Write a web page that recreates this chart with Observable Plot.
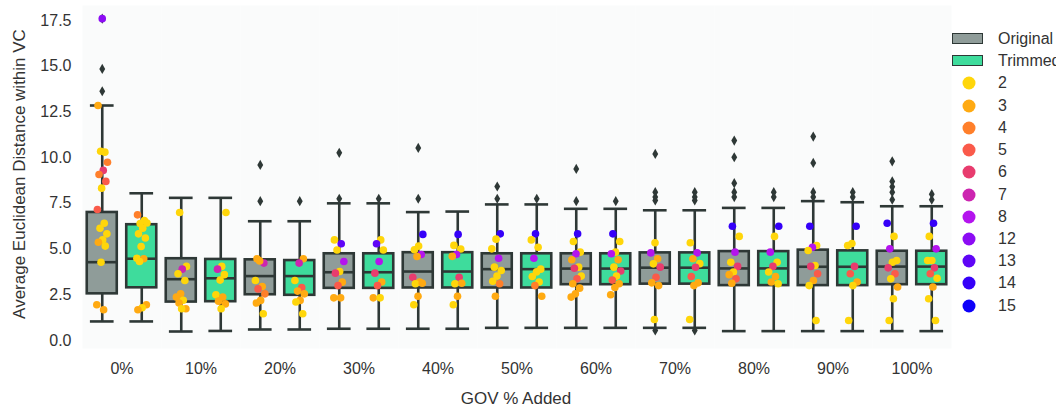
<!DOCTYPE html>
<html><head><meta charset="utf-8">
<script src="https://cdn.jsdelivr.net/npm/d3@7"></script>
<script src="https://cdn.jsdelivr.net/npm/@observablehq/plot@0.6"></script>
<style>
body{margin:0;background:#fff;font-family:"Liberation Sans",Arial,sans-serif;overflow:hidden;}
#wrap{position:relative;width:1056px;height:413px;overflow:hidden;}
.t{position:absolute;color:#333;white-space:nowrap;}
.ylab{font-size:17px;left:20px;top:174px;transform:translate(-50%,-50%) rotate(-90deg);}
.xlab{font-size:17px;left:516px;top:399px;transform:translate(-50%,-50%);}
.lg{position:absolute;font-size:16px;color:#333;white-space:nowrap;transform:translateY(-50%);}
.patch{position:absolute;width:29px;height:9px;border:1.6px solid #2e3836;}
.ld{position:absolute;width:13px;height:13px;border-radius:50%;transform:translate(-50%,-50%);}
</style></head><body><div id="wrap"></div>
<script>
const categories = ["0%","10%","20%","30%","40%","50%","60%","70%","80%","90%","100%"];
const groups = ["Original","Trimmed"];
const groupColors = ["#8f9c99","#3edc9c"];
const sizeClasses = [2,3,4,5,6,7,8,12,13,14,15];
const sizeColors = ["#ffd60a","#ffaa12","#ff7f2a","#fa5a4a","#e83c6e","#cc25b0","#b414ee","#8c0cf4","#5f05f6","#3500f8","#0d00fa"];
const yTicks = [0,2.5,5,7.5,10,12.5,15,17.5];

// Box statistics (Original)
const origLow    = [1.04,0.49,0.60,0.64,0.64,0.69,0.69,0.69,0.51,0.51,0.51];
const origQ1     = [2.55,2.10,2.50,2.85,2.87,2.87,3.05,3.08,3.00,3.00,3.05];
const origMedian = [4.28,3.35,3.52,3.73,3.77,3.90,3.93,3.98,3.94,4.03,4.04];
const origQ3     = [7.00,4.47,4.41,4.74,4.80,4.74,4.74,4.79,4.86,4.94,4.88];
const origHigh   = [12.85,7.80,6.52,7.50,7.02,7.44,7.20,7.12,7.25,7.62,7.34];
// Box statistics (Trimmed)
const trimLow    = [1.04,0.52,0.60,0.64,0.64,0.69,0.69,0.69,0.51,0.51,0.51];
const trimQ1     = [2.88,2.12,2.47,2.85,2.87,2.87,3.05,3.08,3.00,3.00,3.05];
const trimMedian = [4.47,3.40,3.52,3.73,3.77,3.90,3.93,3.98,3.94,4.03,4.04];
const trimQ3     = [6.33,4.43,4.37,4.74,4.80,4.74,4.74,4.79,4.86,4.90,4.88];
const trimHigh   = [8.05,7.80,6.52,7.50,7.05,7.44,7.20,7.12,7.25,7.56,7.34];

// Outliers (fliers)
const origOutliers = [[17.6,14.85,13.63],[],[9.6,7.62],[10.26,7.75],[10.53,7.75],[8.42,7.75],[9.38,7.62],[10.2,8.11,7.84,7.66,0.55],[10.93,10.02,8.6,8.11,7.84],[11.15,9.71,8.11,7.84],[9.8,8.7,8.4,8.11,7.7]];
const trimOutliers = [[],[],[7.62],[7.75],[],[7.75],[7.62],[8.11,7.84,7.66,0.55],[8.11,7.84],[8.11,7.84],[8.0,7.7]];

// Strip points: [value, size class]
const origPoints = [
 [[17.6,12],[12.85,3],[10.3,2],[10.35,2],[9.75,4],[9.3,6],[9.08,4],[8.7,5],[8.33,2],[7.16,5],[6.41,2],[6.14,2],[5.83,2],[5.5,2],[5.37,3],[5.16,2],[4.28,2],[1.95,3],[1.68,3]],
 [[7.0,2],[4.05,2],[3.9,7],[3.65,2],[3.28,2],[2.55,3],[2.37,3],[2.2,2],[2.05,3],[1.73,3],[1.73,2]],
 [[4.47,3],[4.23,7],[4.35,3],[3.28,2],[2.95,3],[2.82,5],[2.55,4],[2.19,3],[2.05,3],[1.46,2]],
 [[5.5,2],[5.29,13],[4.95,2],[4.32,8],[3.77,2],[3.68,6],[3.19,3],[3.0,5],[2.33,3],[2.33,3]],
 [[5.8,14],[5.16,2],[4.96,2],[4.7,8],[4.59,3],[3.46,6],[3.2,3],[3.1,2],[3.13,3],[2.42,3],[1.95,2]],
 [[5.83,14],[5.54,2],[5.01,2],[4.5,8],[4.01,2],[3.83,2],[3.52,2],[3.24,2],[3.1,4],[2.42,3]],
 [[5.83,14],[5.41,2],[4.83,2],[4.74,8],[4.41,3],[4.01,2],[3.95,6],[3.52,2],[3.37,5],[3.1,3],[2.86,3],[2.55,3],[2.37,3]],
 [[5.34,2],[4.79,8],[4.47,3],[4.19,2],[4.01,6],[3.46,5],[3.15,3],[3.0,3],[1.15,2]],
 [[6.25,14],[5.69,2],[4.83,8],[4.28,2],[4.05,6],[3.74,2],[3.6,3],[3.37,5],[3.13,3]],
 [[6.25,14],[5.19,2],[5.1,8],[4.92,2],[4.1,2],[4.05,6],[3.65,5],[3.28,3],[3.0,2],[1.09,2]],
 [[6.41,14],[5.69,2],[5.01,8],[4.37,2],[4.28,2],[3.97,6],[3.65,5],[3.37,2],[2.92,3],[2.28,2],[1.09,2]]
];
const trimPoints = [
 [[6.87,4],[6.56,2],[6.4,2],[6.42,2],[6.14,2],[5.83,2],[5.6,2],[5.14,2],[4.5,2],[4.47,3],[4.32,2],[1.95,3],[1.79,2],[1.68,3]],
 [[7.0,2],[4.05,2],[3.9,7],[3.6,2],[3.3,2],[2.5,2],[2.37,3],[2.15,3],[2.0,3],[1.73,2]],
 [[4.47,3],[4.23,7],[3.28,2],[2.9,5],[2.7,3],[2.55,3],[2.19,3],[2.1,2],[1.46,2]],
 [[5.5,2],[5.29,13],[4.95,2],[4.32,8],[3.68,6],[3.2,3],[3.0,5],[2.33,3],[2.33,2]],
 [[5.8,14],[5.2,2],[5.0,2],[4.7,8],[4.6,3],[3.46,6],[3.1,2],[3.13,3],[2.42,3],[1.95,2]],
 [[5.83,14],[5.5,2],[5.1,2],[4.5,8],[3.9,2],[3.75,2],[3.5,2],[3.2,2],[3.0,4],[2.42,3]],
 [[5.83,14],[5.41,2],[4.83,2],[4.74,8],[4.41,3],[4.01,2],[3.8,6],[3.52,2],[3.3,5],[3.1,3],[2.9,3],[2.5,3]],
 [[5.34,2],[4.79,8],[4.47,3],[4.2,2],[4.0,6],[3.5,5],[3.15,3],[3.0,3],[1.15,2]],
 [[6.25,14],[5.69,2],[4.83,8],[4.28,2],[4.05,6],[3.74,2],[3.5,3],[3.2,3],[3.1,2]],
 [[6.25,14],[5.3,2],[5.19,2],[4.05,6],[3.65,5],[3.2,3],[3.0,2],[1.09,2]],
 [[6.41,14],[5.69,2],[5.01,8],[4.37,2],[4.37,2],[3.97,6],[3.65,5],[3.4,2],[2.92,3],[2.28,2],[1.09,2]]
];

// ---- build tables ----
const stats = [
  [origLow, origQ1, origMedian, origQ3, origHigh],
  [trimLow, trimQ1, trimMedian, trimQ3, trimHigh]
];
const HW = 0.38, CAP = 0.3;
const boxes = [];
groups.forEach((g, gi) => {
  const [lo, q1, md, q3, hi] = stats[gi];
  categories.forEach((c, ci) => {
    const xc = gi === 0 ? -0.5 : 0.5;
    boxes.push({cat: c, group: g, xc, xl: xc - HW, xr: xc + HW, cl: xc - CAP, cr: xc + CAP,
      lo: lo[ci], q1: q1[ci], med: md[ci], q3: q3[ci], hi: hi[ci], fill: groupColors[gi]});
  });
});
const fliers = [];
[origOutliers, trimOutliers].forEach((arr, gi) => arr.forEach((vals, ci) => vals.forEach(v =>
  fliers.push({cat: categories[ci], xc: gi === 0 ? -0.5 : 0.5, value: v}))));
const pts = [];
[origPoints, trimPoints].forEach((arr, gi) => arr.forEach((list, ci) => list.forEach(([v, s], k) => {
  const n = k + ci * 3 + gi;
  const j = (((n * 0.6180339887) + 0.5) % 1 - 0.5) * 0.28; // deterministic strip jitter
  pts.push({cat: categories[ci], x: (gi === 0 ? -0.5 : 0.5) + j, value: v,
    color: sizeColors[sizeClasses.indexOf(s)]});
})));

const edge = "#2e3836", SW = 2.6;
const chart = Plot.plot({
  width: 1056, height: 413,
  marginLeft: 77, marginRight: 100.5, marginTop: 5, marginBottom: 65,
  style: {background: "transparent", fontFamily: "'Liberation Sans', Arial, sans-serif", fontSize: "16px", color: "#333"},
  fx: {domain: categories, padding: 0, label: null, axis: "bottom", tickSize: 0, tickPadding: 14},
  x: {domain: [-1, 1], axis: null},
  y: {domain: [-0.44, 18.32], ticks: yTicks, tickFormat: d3.format(".1f"), tickSize: 0, tickPadding: 11, label: null},
  color: {type: "identity"},
  marks: [
    Plot.frame({fill: "#fafbfb", stroke: null}),
    Plot.ruleX(boxes, {fx: "cat", x: "xc", y1: "q3", y2: "hi", stroke: edge, strokeWidth: SW}),
    Plot.ruleX(boxes, {fx: "cat", x: "xc", y1: "lo", y2: "q1", stroke: edge, strokeWidth: SW}),
    Plot.ruleY(boxes, {fx: "cat", x1: "cl", x2: "cr", y: "hi", stroke: edge, strokeWidth: SW}),
    Plot.ruleY(boxes, {fx: "cat", x1: "cl", x2: "cr", y: "lo", stroke: edge, strokeWidth: SW}),
    Plot.rect(boxes, {fx: "cat", x1: "xl", x2: "xr", y1: "q1", y2: "q3", fill: "fill", stroke: edge, strokeWidth: SW}),
    Plot.ruleY(boxes, {fx: "cat", x1: "xl", x2: "xr", y: "med", stroke: edge, strokeWidth: SW}),
    Plot.dot(fliers, {fx: "cat", x: "xc", y: "value", symbol: "diamond", r: 3.1, fill: edge, stroke: null}),
    Plot.dot(pts, {fx: "cat", x: "x", y: "value", r: 3.8, fill: "color", stroke: null})
  ]
});
const wrap = document.getElementById("wrap");
wrap.appendChild(chart);

function addDiv(cls, html, css) {
  const d = document.createElement("div");
  d.className = cls; d.innerHTML = html || "";
  Object.assign(d.style, css || {});
  wrap.appendChild(d);
  return d;
}
addDiv("t ylab", "Average Euclidean Distance within VC");
addDiv("t xlab", "GOV % Added");
// legend
groups.forEach((g, i) => {
  const cy = 38.5 + i * 22.2;
  addDiv("patch", "", {left: "952px", top: (cy - 6) + "px", background: groupColors[i]});
  addDiv("lg", g, {left: "998px", top: cy + "px"});
});
sizeClasses.forEach((s, i) => {
  const cy = 83.3 + i * 22.24;
  addDiv("ld", "", {left: "969px", top: cy + "px", background: sizeColors[i]});
  addDiv("lg", String(s), {left: "998px", top: cy + "px"});
});
</script>
</body></html>
